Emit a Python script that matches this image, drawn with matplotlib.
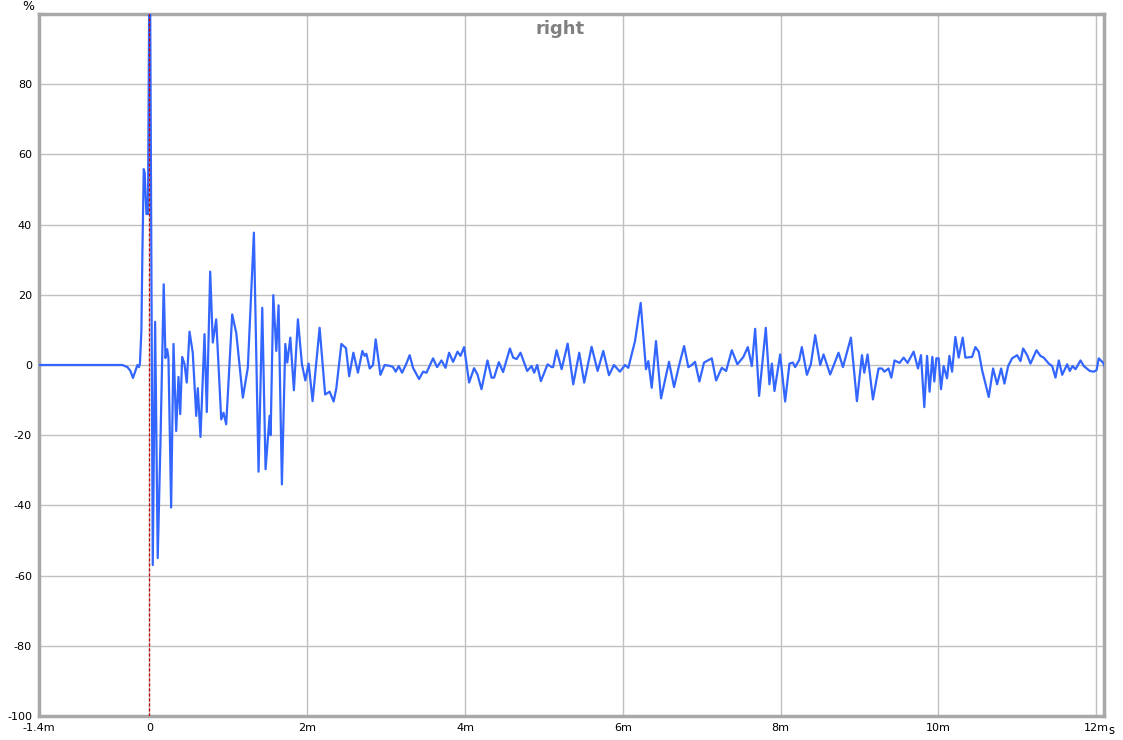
import matplotlib
matplotlib.use("Agg")
import matplotlib.pyplot as plt

# ---- data (time in ms, amplitude in %) ----
t_ms = [
    -1.40, -0.343, -0.279, -0.241, -0.209, -0.178, -0.152, -0.133, -0.121, -0.102,
    -0.089, -0.072, -0.060, -0.038, -0.019, -0.004, 0.010, 0.042, 0.072, 0.105,
    0.140, 0.181, 0.203, 0.225, 0.241, 0.275, 0.305, 0.339, 0.368, 0.390,
    0.415, 0.444, 0.473, 0.508, 0.549, 0.593, 0.613, 0.647, 0.698, 0.727,
    0.770, 0.803, 0.846, 0.910, 0.939, 0.973, 1.049, 1.100, 1.184, 1.247,
    1.324, 1.383, 1.430, 1.472, 1.523, 1.536, 1.570, 1.608, 1.637, 1.679,
    1.722, 1.747, 1.786, 1.831, 1.882, 1.933, 1.976, 2.018, 2.068, 2.157,
    2.227, 2.284, 2.335, 2.369, 2.433, 2.491, 2.532, 2.585, 2.643, 2.699,
    2.728, 2.750, 2.792, 2.834, 2.868, 2.928, 2.982, 3.037, 3.084, 3.122,
    3.160, 3.202, 3.249, 3.299, 3.341, 3.418, 3.469, 3.512, 3.595, 3.646,
    3.702, 3.753, 3.798, 3.849, 3.905, 3.943, 3.989, 4.052, 4.115, 4.158,
    4.209, 4.285, 4.336, 4.369, 4.429, 4.483, 4.569, 4.611, 4.654, 4.704,
    4.788, 4.844, 4.877, 4.915, 4.962, 5.047, 5.098, 5.117, 5.161, 5.225,
    5.301, 5.372, 5.448, 5.511, 5.605, 5.681, 5.753, 5.825, 5.888, 5.964,
    6.028, 6.070, 6.155, 6.227, 6.294, 6.324, 6.367, 6.421, 6.485, 6.586,
    6.650, 6.717, 6.777, 6.831, 6.874, 6.916, 6.971, 7.030, 7.128, 7.183,
    7.255, 7.310, 7.382, 7.453, 7.529, 7.585, 7.636, 7.678, 7.728, 7.813,
    7.859, 7.890, 7.923, 7.995, 8.058, 8.113, 8.156, 8.185, 8.236, 8.270,
    8.334, 8.384, 8.439, 8.503, 8.545, 8.629, 8.735, 8.791, 8.892, 8.968,
    9.032, 9.061, 9.103, 9.171, 9.242, 9.286, 9.315, 9.369, 9.404, 9.445,
    9.509, 9.560, 9.610, 9.687, 9.742, 9.780, 9.822, 9.857, 9.889, 9.924,
    9.949, 9.975, 10.004, 10.034, 10.067, 10.110, 10.140, 10.174, 10.216, 10.258,
    10.309, 10.343, 10.428, 10.470, 10.512, 10.555, 10.639, 10.694, 10.745, 10.796,
    10.838, 10.885, 10.935, 10.999, 11.041, 11.075, 11.126, 11.168, 11.244, 11.294,
    11.336, 11.400, 11.443, 11.485, 11.527, 11.570, 11.633, 11.666, 11.701, 11.739,
    11.802, 11.844, 11.920, 11.971, 12.005, 12.034, 12.090, 12.120,
]
amp_pct = [
    0.0, 0.0, -0.6, -1.7, -3.7, -1.7, 0.0, -0.6, 0.3, 9.7,
    32.5, 55.8, 54.7, 43.0, 43.0, 100.0, 100.0, -57.0, 12.3, -55.0,
    -21.6, 23.0, 2.0, 4.5, 2.0, -40.6, 6.0, -18.8, -3.4, -14.0,
    2.3, 0.3, -5.0, 9.5, 3.5, -14.5, -6.6, -20.5, 8.8, -13.4,
    26.6, 6.4, 13.0, -15.5, -13.6, -16.9, 14.4, 9.2, -9.3, -0.8,
    37.7, -30.4, 16.3, -29.7, -14.5, -20.0, 19.9, 4.0, 17.0, -34.0,
    6.0, 0.7, 7.8, -7.2, 13.0, 0.2, -4.4, 0.4, -10.3, 10.6,
    -8.4, -7.6, -10.4, -6.6, 6.0, 4.8, -3.2, 3.5, -2.2, 4.0,
    2.6, 3.2, -1.0, 0.0, 7.3, -2.8, 0.0, -0.2, -0.5, -1.9,
    -0.3, -2.2, 0.0, 2.8, -0.8, -4.0, -1.9, -2.2, 1.9, -0.6,
    1.3, -0.8, 3.5, 0.9, 3.8, 2.6, 5.1, -5.0, -0.9, -2.7,
    -6.9, 1.3, -3.6, -3.6, 0.8, -2.0, 4.7, 2.1, 1.7, 3.5,
    -1.7, -0.3, -2.2, 0.0, -4.6, 0.2, -0.6, -0.6, 4.2, -1.2,
    6.1, -5.5, 3.5, -5.0, 5.2, -1.7, 4.0, -2.9, 0.0, -1.9,
    0.0, -0.8, 6.8, 17.7, -1.2, 1.1, -6.5, 6.8, -9.5, 0.9,
    -6.3, 0.2, 5.4, -0.6, 0.0, 0.9, -4.7, 0.7, 1.9, -4.4,
    -0.8, -1.7, 4.2, 0.2, 2.3, 5.1, -0.3, 10.3, -8.8, 10.6,
    -5.5, 0.4, -7.4, 3.0, -10.4, 0.4, 0.7, -0.6, 1.4, 5.1,
    -2.8, 0.2, 8.5, 0.0, 3.0, -2.7, 3.5, -0.6, 7.8, -10.3,
    2.8, -2.2, 3.0, -9.8, -1.0, -1.0, -1.9, -1.0, -3.6, 1.3,
    0.6, 2.1, 0.6, 3.8, -1.0, 2.8, -12.0, 2.6, -7.6, 2.3,
    -4.7, 1.9, 1.9, -6.9, -0.3, -3.8, 2.6, -1.9, 8.0, 2.1,
    7.8, 2.1, 2.3, 5.1, 3.8, -1.5, -9.1, -1.0, -5.5, -1.0,
    -5.3, -0.3, 1.9, 2.8, 1.1, 4.7, 2.8, 0.4, 4.2, 2.6,
    2.1, 0.4, -0.3, -3.6, 1.3, -2.8, 0.2, -1.7, -0.3, -1.2,
    1.3, -0.3, -1.7, -1.9, -1.5, 1.9, 0.6, -1.0,
]

x_ticks = [-1.4, 0, 2, 4, 6, 8, 10, 12]
x_labels = ["-1.4m", "0", "2m", "4m", "6m", "8m", "10m", "12m"]
y_ticks = [-100, -80, -60, -40, -20, 0, 20, 40, 60, 80]
y_labels = ["-100", "-80", "-60", "-40", "-20", "0", "20", "40", "60", "80"]
title = "right"

W, H = 1123, 740
fig = plt.figure(figsize=(W / 100, H / 100), dpi=100)
L, R, T, B = 39, 1104, 14, 716
ax = fig.add_axes([L / W, 1 - B / H, (R - L) / W, (B - T) / H])

ax.set_xlim(-1.4, 12.1)
ax.set_ylim(-100, 100)

# grid
for gx in [0, 2, 4, 6, 8, 10, 12]:
    ax.axvline(gx, color="#c0c0c0", lw=1.0, zorder=1)
for gy in y_ticks[1:]:
    ax.axhline(gy, color="#c0c0c0", lw=1.0, zorder=1)

ax.plot(t_ms, amp_pct, color="#3366ff", lw=1.6, zorder=3, solid_joinstyle="round")

# dashed marker at t=0
ax.axvline(0, color="#cc0000", lw=0.9, ls=(0, (2.5, 1.5)), zorder=4)

ax.set_xticks(x_ticks)
ax.set_xticklabels(x_labels, fontsize=8)
ax.set_yticks(y_ticks)
ax.set_yticklabels(y_labels, fontsize=8)
ax.tick_params(length=0, pad=5)
for sp in ax.spines.values():
    sp.set_color("#a8a8a8")
    sp.set_linewidth(2.5)

fig.text((R + 4) / W, 1 - 731 / H, "s", fontsize=8.5, ha="left", va="center")
fig.text(28 / W, 1 - 6 / H, "%", fontsize=9, ha="center", va="center")

ax.text(0.489, 0.979, title, transform=ax.transAxes, ha="center", va="center",
        fontsize=13, fontweight="bold", color="#808080")

fig.savefig("out.png", dpi=100)
